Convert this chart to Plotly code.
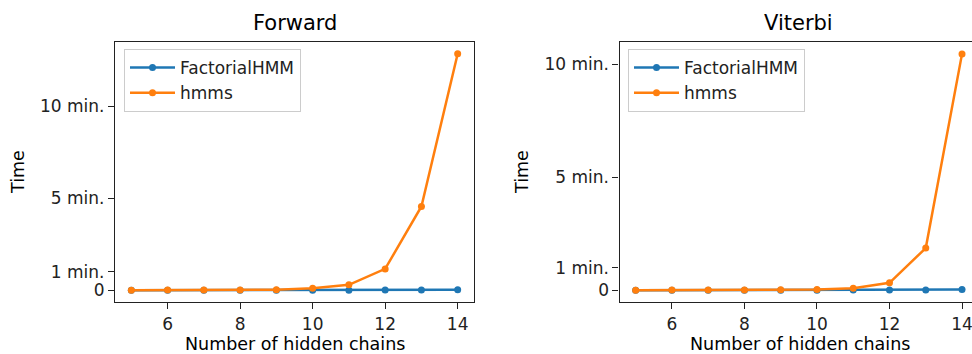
import plotly.graph_objects as go

chains = [5, 6, 7, 8, 9, 10, 11, 12, 13, 14]
fwd_factorial = [0.01, 0.01, 0.02, 0.03, 0.05, 0.1, 0.2, 0.4, 0.8, 1.5]
fwd_hmms = [0.2, 0.3, 0.5, 0.9, 1.8, 6.5, 17.5, 69.5, 273, 771]
vit_factorial = [0.01, 0.01, 0.02, 0.03, 0.05, 0.1, 0.2, 0.4, 0.8, 1.5]
vit_hmms = [0.1, 0.2, 0.3, 0.5, 0.9, 1.5, 5, 19.5, 112, 628]
y_tickvals = [0, 60, 300, 600]
y_ticktext = ["0", "1 min.", "5 min.", "10 min."]
x_tickvals = [6, 8, 10, 12, 14]

BLUE = "#1f77b4"
ORANGE = "#ff7f0e"
FONT = "DejaVu Sans"
W, H = 972, 354

fig = go.Figure()

def add(x, y, name, color, xa, ya, legend, show):
    fig.add_trace(go.Scatter(
        x=x, y=y, name=name, mode="lines+markers",
        line=dict(color=color, width=2.5),
        marker=dict(color=color, size=7),
        xaxis=xa, yaxis=ya, legend=legend, showlegend=show,
    ))

add(chains, fwd_factorial, "FactorialHMM", BLUE, "x", "y", "legend", True)
add(chains, fwd_hmms, "hmms", ORANGE, "x", "y", "legend", True)
add(chains, vit_factorial, "FactorialHMM", BLUE, "x2", "y2", "legend2", True)
add(chains, vit_hmms, "hmms", ORANGE, "x2", "y2", "legend2", True)

ydom = [1 - 302 / H, 1 - 42 / H]
axis_common = dict(
    showgrid=False, zeroline=False, showline=True, linecolor="#222222", linewidth=1.2,
    ticks="outside", ticklen=6, tickwidth=1.2, tickcolor="#222222",
    tickfont=dict(family=FONT, size=17, color="#222222"),
    ticklabeloverflow="allow",
)

def leg(x):
    return dict(
        x=x, y=1 - 49 / H, xanchor="left", yanchor="top",
        bgcolor="rgba(255,255,255,0.8)", bordercolor="#cccccc", borderwidth=1,
        font=dict(family=FONT, size=17, color="#222222"),
        itemwidth=45, tracegroupgap=0,
    )

fig.update_layout(
    width=W, height=H,
    margin=dict(l=0, r=0, t=0, b=0),
    plot_bgcolor="white", paper_bgcolor="white",
    font=dict(family=FONT, color="#222222"),
    xaxis=dict(domain=[115 / W, 474 / W], range=[4.55, 14.45], tickvals=x_tickvals,
               mirror=True, anchor="y", **axis_common),
    yaxis=dict(domain=ydom, range=[-38.5, 809.5], tickvals=y_tickvals, ticktext=y_ticktext,
               mirror=True, anchor="x", **axis_common),
    xaxis2=dict(domain=[619.5 / W, 1.0], range=[4.555, 14.275], tickvals=x_tickvals,
                mirror=True, anchor="y2", **axis_common),
    yaxis2=dict(domain=ydom, range=[-31.4, 659.6], tickvals=y_tickvals, ticktext=y_ticktext,
                mirror=False, anchor="x2", **axis_common),
    legend=leg(124 / W),
    legend2=leg(628 / W),
)

annotations = [
    dict(text="Forward", x=295 / W, y=1 - 23 / H, size=21),
    dict(text="Viterbi", x=798 / W, y=1 - 23 / H, size=21),
    dict(text="Number of hidden chains", x=294.5 / W, y=1 - 344 / H, size=17.5),
    dict(text="Number of hidden chains", x=800 / W, y=1 - 344 / H, size=17.5),
]
for a in annotations:
    fig.add_annotation(text=a["text"], x=a["x"], y=a["y"], xref="paper", yref="paper",
                       xanchor="center", yanchor="middle", showarrow=False,
                       font=dict(family=FONT, size=a["size"], color="black"))
for xpos in [18, 522]:
    fig.add_annotation(text="Time", x=xpos / W, y=1 - 172 / H, xref="paper", yref="paper",
                       xanchor="center", yanchor="middle", showarrow=False, textangle=-90,
                       font=dict(family=FONT, size=17.5, color="black"))

fig.write_html(
    "out.html",
    config={"displayModeBar": False},
    post_script="document.body.style.margin='0';document.body.style.overflow='hidden';",
)
